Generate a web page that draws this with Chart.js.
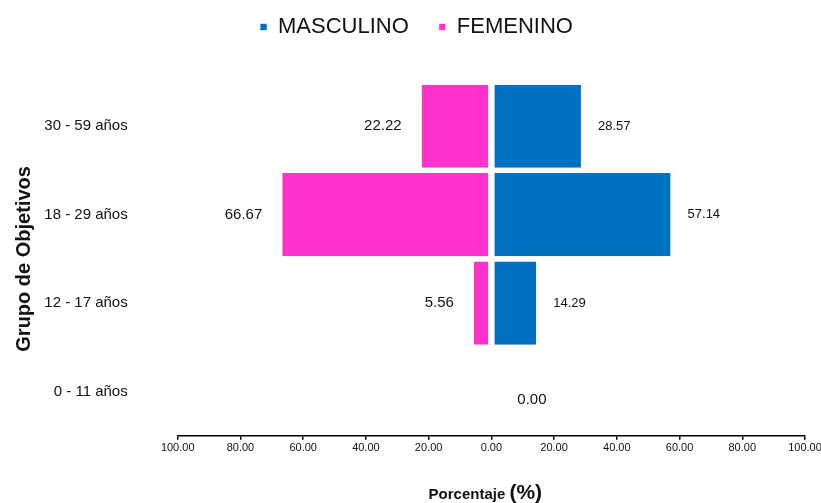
<!DOCTYPE html>
<html>
<head>
<meta charset="utf-8">
<script src="https://cdn.jsdelivr.net/npm/chart.js@4.4.1/dist/chart.umd.min.js"></script>
<style>
    html, body { margin: 0; padding: 0; background: #fff; }
    #wrap { width: 821px; height: 503px; }
</style>
</head>
<body>
<div id="wrap"><canvas id="c"></canvas></div>
<script>
const groups = ['30 - 59 años', '18 - 29 años', '12 - 17 años', '0 - 11 años'];
const masculino = [28.57, 57.14, 14.29, 0.00];
const femenino = [22.22, 66.67, 5.56, 0.00];
const xTicks = [-100, -80, -60, -40, -20, 0, 20, 40, 60, 80, 100];

const BLUE = '#0070C0';
const PINK = '#FF33CC';
const FONT = "'Liberation Sans', Arial, sans-serif";

// value labels next to the bar ends
const barLabels = {
    id: 'barLabels',
    afterDatasetsDraw(chart) {
        const ctx = chart.ctx;
        const xScale = chart.scales.x;
        ctx.save();
        ctx.fillStyle = '#111';
        ctx.textBaseline = 'middle';
        chart.data.datasets.forEach((ds, di) => {
            const meta = chart.getDatasetMeta(di);
            meta.data.forEach((bar, i) => {
                const v = Math.abs(ds.data[i]);
                if (ds.side === 'f') {
                    if (v === 0) return;
                    ctx.font = '15px ' + FONT;
                    ctx.textAlign = 'right';
                    ctx.fillText(v.toFixed(2), xScale.getPixelForValue(-v) - 20, bar.y);
                } else if (v === 0) {
                    ctx.font = '15px ' + FONT;
                    ctx.textAlign = 'left';
                    ctx.fillText(v.toFixed(2), xScale.getPixelForValue(0) + 26, bar.y + 8);
                } else {
                    ctx.font = '13px ' + FONT;
                    ctx.textAlign = 'left';
                    ctx.fillText(v.toFixed(2), xScale.getPixelForValue(v) + 17, bar.y);
                }
            });
        });
        ctx.restore();
    }
};

// x axis title with the bigger (%)
const xTitle = {
    id: 'xTitle',
    afterDraw(chart) {
        const ctx = chart.ctx;
        const a = chart.chartArea;
        const p1 = 'Porcentaje ';
        const p2 = '(%)';
        ctx.save();
        ctx.fillStyle = '#111';
        ctx.textBaseline = 'alphabetic';
        ctx.textAlign = 'left';
        ctx.font = 'bold 15px ' + FONT;
        const w1 = ctx.measureText(p1).width;
        ctx.font = 'bold 21px ' + FONT;
        const w2 = ctx.measureText(p2).width;
        let x = (a.left + a.right) / 2 - 6 - (w1 + w2) / 2;
        const y = 499;
        ctx.font = 'bold 15px ' + FONT;
        ctx.fillText(p1, x, y);
        ctx.font = 'bold 21px ' + FONT;
        ctx.fillText(p2, x + w1, y);
        ctx.restore();
    }
};

// extra room under the legend
const legendGap = {
    id: 'legendGap',
    beforeInit(chart) {
        const fit = chart.legend.fit;
        chart.legend.fit = function () {
            fit.bind(chart.legend)();
            this.height += 34;
        };
    }
};

const chart = new Chart(document.querySelector('#c'), {
    type: 'bar',
    data: {
        labels: groups,
        datasets: [
            {
                label: 'MASCULINO',
                side: 'm',
                data: masculino,
                backgroundColor: BLUE,
                borderColor: '#fff',
                borderWidth: { left: 2.5, right: 0, top: 0, bottom: 0 },
                borderSkipped: false
            },
            {
                label: 'FEMENINO',
                side: 'f',
                data: femenino.map(v => -v),
                backgroundColor: PINK,
                borderColor: '#fff',
                borderWidth: { left: 0, right: 2.5, top: 0, bottom: 0 },
                borderSkipped: false
            }
        ]
    },
    options: {
        indexAxis: 'y',
        responsive: true,
        maintainAspectRatio: false,
        animation: false,
        categoryPercentage: 1,
        barPercentage: 0.94,
        layout: {
            padding: { left: 12, right: 0, top: -14, bottom: 46 }
        },
        plugins: {
            legend: {
                position: 'top',
                labels: {
                    usePointStyle: true,
                    pointStyle: 'rect',
                    boxWidth: 7,
                    boxHeight: 7,
                    padding: 30,
                    color: '#111',
                    font: { family: FONT, size: 22 }
                }
            },
            tooltip: { enabled: false }
        },
        scales: {
            x: {
                stacked: true,
                min: -100,
                max: 100,
                afterBuildTicks: axis => {
                    axis.ticks = xTicks.map(v => ({ value: v }));
                },
                afterFit: axis => {
                    axis.paddingRight = 16;
                },
                ticks: {
                    color: '#111',
                    font: { family: FONT, size: 11 },
                    maxRotation: 0,
                    padding: 2,
                    callback: v => Math.abs(v).toFixed(2)
                },
                grid: {
                    drawOnChartArea: false,
                    color: '#000',
                    lineWidth: 1.5,
                    tickLength: 4
                },
                border: { display: true, color: '#000', width: 1.5 }
            },
            y: {
                stacked: true,
                afterFit: axis => {
                    axis.width = 165.7;
                },
                ticks: {
                    color: '#111',
                    font: { family: FONT, size: 15 },
                    padding: 50
                },
                grid: { display: false, drawTicks: false },
                border: { display: false },
                title: {
                    display: true,
                    text: 'Grupo de Objetivos',
                    color: '#111',
                    font: { family: FONT, size: 20, weight: 'bold' },
                    padding: { top: 0, bottom: 4 }
                }
            }
        }
    },
    plugins: [barLabels, xTitle, legendGap]
});
</script>
</body>
</html>
